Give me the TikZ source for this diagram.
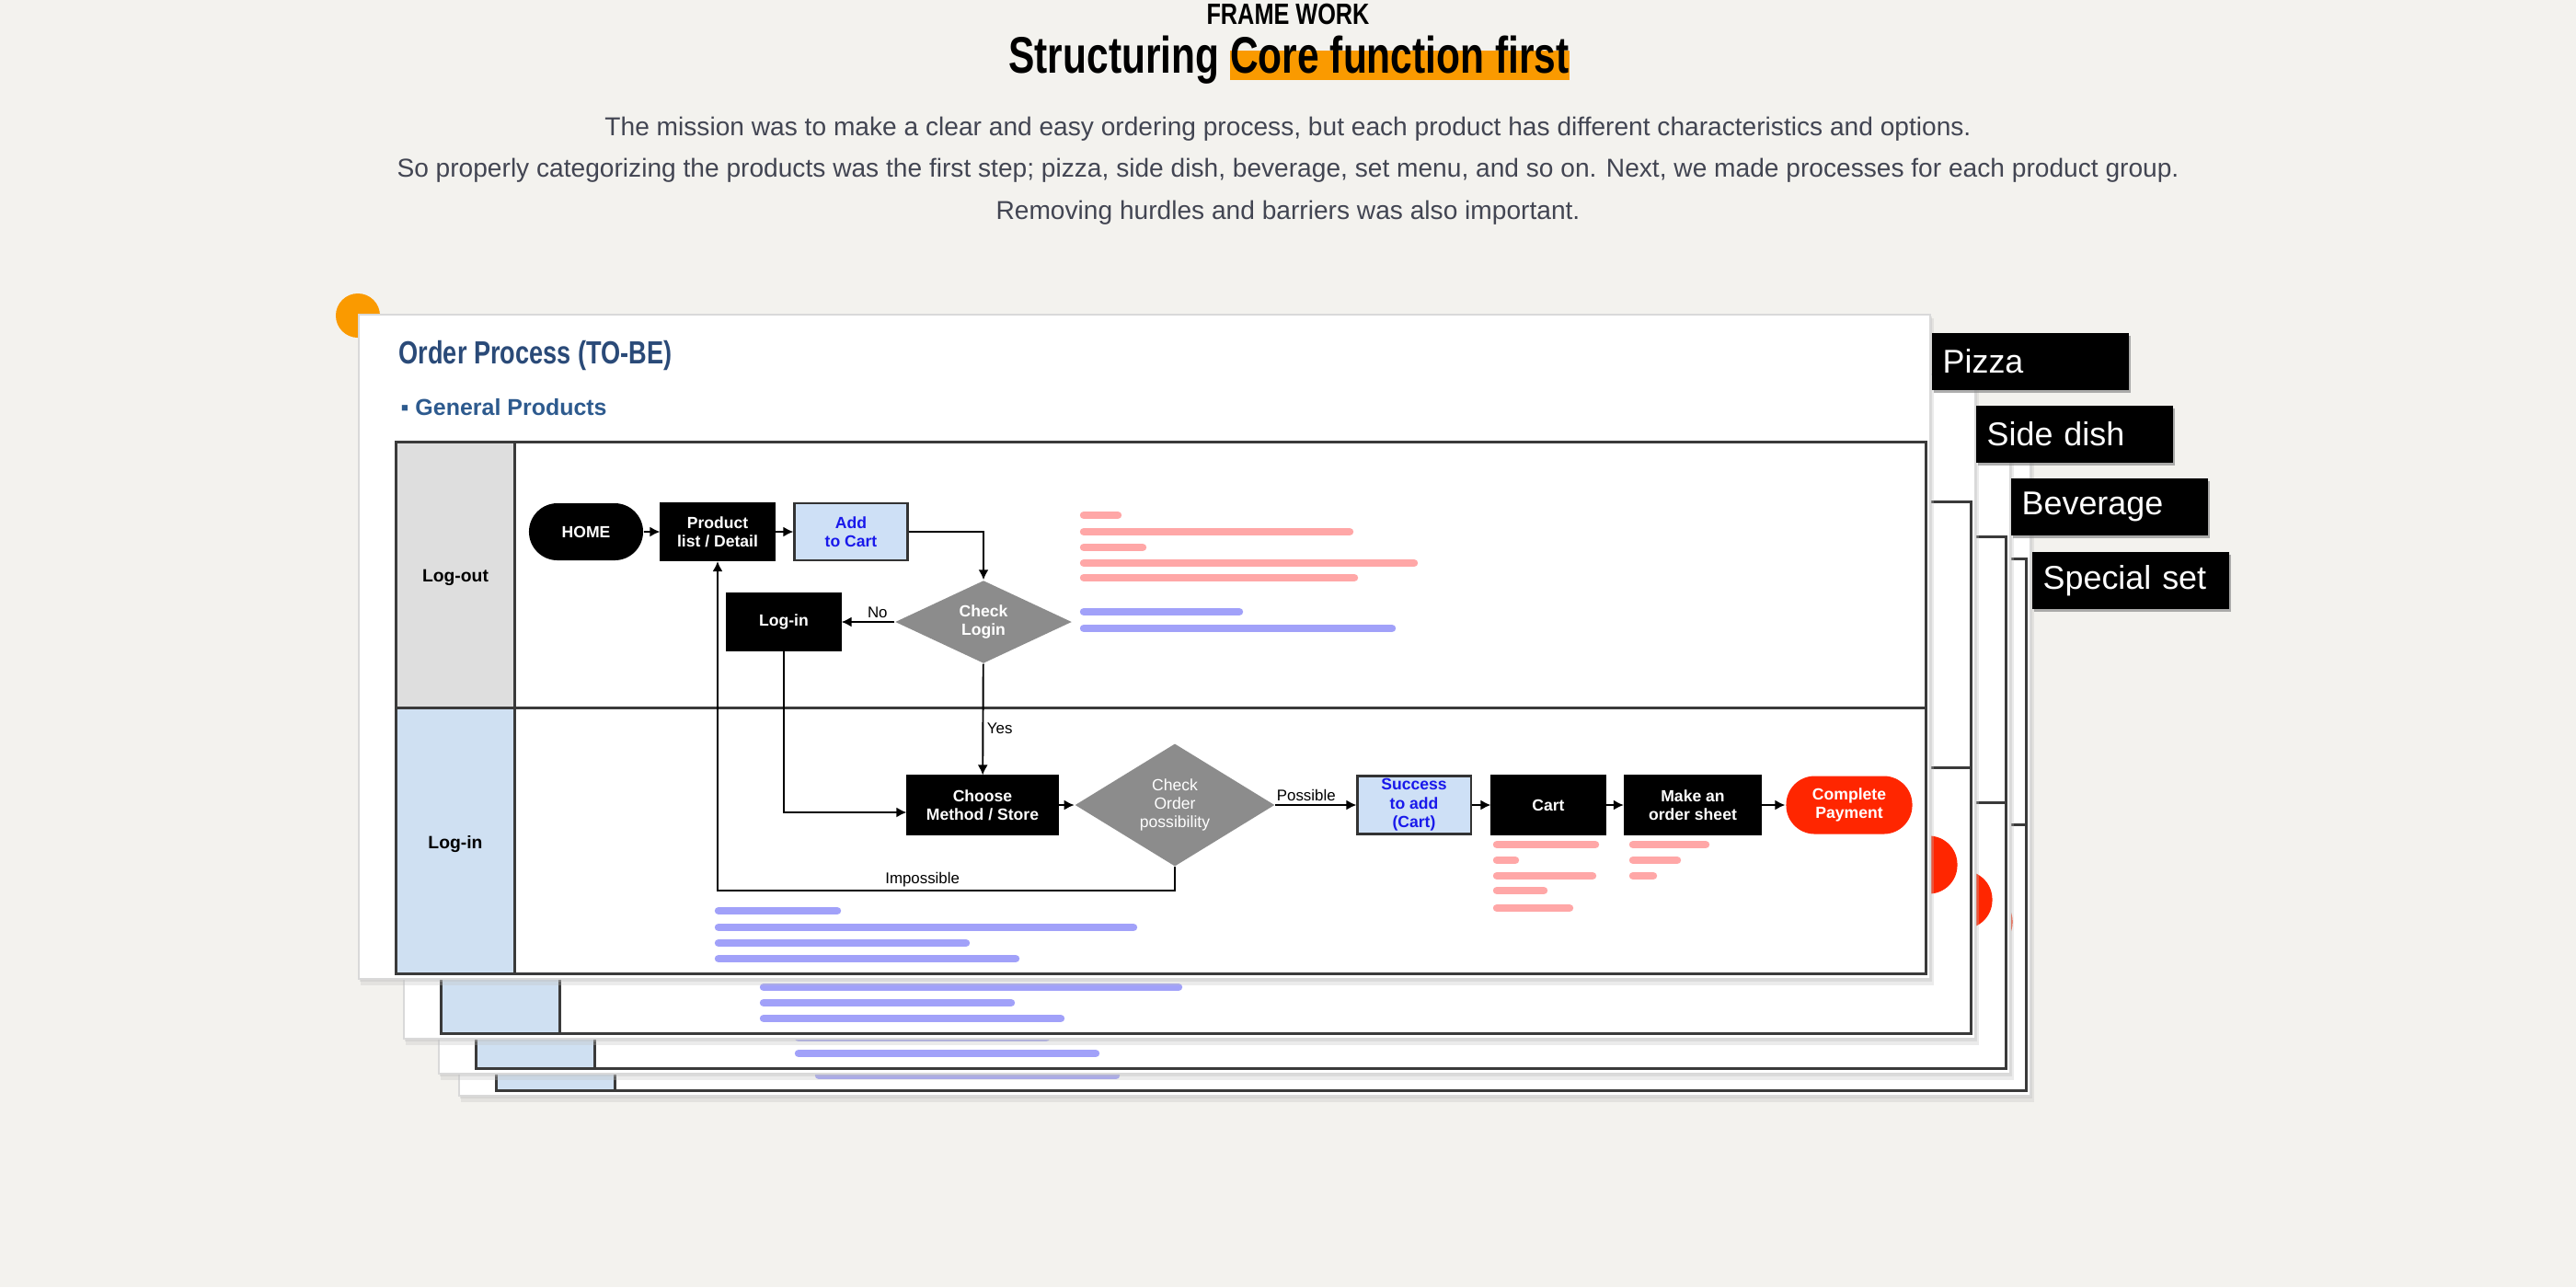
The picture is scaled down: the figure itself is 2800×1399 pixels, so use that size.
\documentclass[tikz,border=0pt]{standalone}
\usepackage{fontspec}
\setmainfont{Liberation Sans}
\usetikzlibrary{positioning,calc,shapes.geometric,arrows.meta,shadows}
\definecolor{FWPage}{RGB}{243,242,238}
\definecolor{FWOrange}{RGB}{250,154,0}
\definecolor{FWInk}{RGB}{66,69,82}
\definecolor{OPNavy}{RGB}{42,74,120}
\definecolor{OPBlue}{RGB}{45,90,142}
\definecolor{OPLine}{RGB}{58,58,58}
\definecolor{OPLaneGray}{RGB}{222,222,222}
\definecolor{OPLaneBlue}{RGB}{207,224,242}
\definecolor{OPBoxBlue}{RGB}{206,224,246}
\definecolor{OPTextBlue}{RGB}{25,25,235}
\definecolor{OPDiamond}{RGB}{140,140,140}
\definecolor{OPRed}{RGB}{255,38,0}
\definecolor{OPBlurRed}{RGB}{255,95,95}
\definecolor{OPBlurBlue}{RGB}{85,85,245}

\newsavebox\hlbox
\newcommand{\hilite}[1]{\sbox\hlbox{#1}\rlap{\color{FWOrange}\rule[-0.08cm]{\wd\hlbox}{0.32cm}}\usebox\hlbox}
\newcommand{\boxfont}{\fontsize{5}{5.8}\selectfont\bfseries}

\tikzset{
  % one process sheet: paper, swimlanes and blurred notes
  cardsheet/.pic={
    \fill[black!25,opacity=.3] (392,346) rectangle (2102,1071);
    \fill[black!25,opacity=.35] (391,344) rectangle (2100,1067);
    \filldraw[draw=black!15,fill=white] (390,342) rectangle (2098,1064);
    \fill[OPLaneGray] (430,480) rectangle (559,769);
    \fill[OPLaneBlue] (430,769) rectangle (559,1058);
    \draw[lane] (430,480) rectangle (2093,1058);
    \draw[lane] (559,480) -- (559,1058);
    \draw[lane] (430,769) -- (2093,769);
    \foreach \y/\xa/\xb in {560/1178/1215,578/1178/1467,595/1178/1242,612/1178/1537,628/1178/1472,
                            918/1627/1734,935/1627/1647,952/1627/1731,968/1627/1678,987/1627/1706,
                            918/1775/1854,935/1775/1823,952/1775/1797}
      \draw[redblur] (\xa,\y) -- (\xb,\y);
    \foreach \y/\xa/\xb in {665/1178/1347,683/1178/1513,
                            990/781/910,1008/781/1232,1025/781/1050,1042/781/1104}
      \draw[blueblur] (\xa,\y) -- (\xb,\y);
  },
  % a sheet behind the front one, only its end oval shows
  backcard/.pic={
    \pic {cardsheet};
    \node[terminal,fill=OPRed,minimum width=1.37cm,minimum height=0.63cm] (oval) at (2010,875) {};
  }
}

\begin{document}
\begin{tikzpicture}[x=0.01cm,y=-0.01cm,
  heading/.style={anchor=base west,inner sep=0,text=OPNavy,font=\fontsize{9.9}{11}\selectfont\bfseries},
  subhead/.style={anchor=base west,inner sep=0,text=OPBlue,font=\fontsize{7.1}{8}\selectfont\bfseries},
  lane/.style={draw=OPLine,line width=0.85pt},
  lanelabel/.style={font=\fontsize{5.5}{6}\selectfont\bfseries,inner sep=0},
  pbox/.style={rectangle,minimum width=1.23cm,minimum height=0.62cm,inner sep=0,align=center,font=\boxfont,line width=0.6pt},
  blackbox/.style={pbox,draw=black,fill=black,text=white},
  bluebox/.style={pbox,draw=black!80,fill=OPBoxBlue,text=OPTextBlue},
  terminal/.style={pbox,rounded corners=0.31cm},
  decision/.style={diamond,fill=OPDiamond,text=white,inner sep=0,align=center,font=\boxfont},
  lbl/.style={font=\fontsize{4.8}{5.5}\selectfont,inner sep=1pt},
  arr/.style={-{Latex[length=1.1mm,width=1.1mm]},line width=0.55pt,draw=black},
  redblur/.style={draw=OPBlurRed,line width=2.4pt,line cap=round,opacity=.55},
  blueblur/.style={draw=OPBlurBlue,line width=2.4pt,line cap=round,opacity=.55},
  tab/.style={anchor=north west,fill=black,text=white,font=\fontsize{10.2}{12}\selectfont,text width=1.9cm,inner xsep=0.12cm,inner ysep=0,minimum height=0.62cm,align=left,drop shadow={shadow xshift=0.6pt,shadow yshift=-0.8pt,fill=black!45,opacity=.7}},
  para/.style={anchor=base,inner sep=0,text=FWInk,font=\fontsize{8}{9.6}\selectfont}]
  \useasboundingbox (0,0) rectangle (2800,1399);
  \fill[FWPage] (0,0) rectangle (2800,1399);

  % header
  \node[anchor=base,inner sep=0,font=\fontsize{9.1}{10}\selectfont\bfseries] (frame) at (1400,26) {\scalebox{0.79}[1]{FRAME WORK}};
  \node[anchor=base,inner sep=0,font=\fontsize{15.9}{18}\selectfont\bfseries] (title) at (1401,79) {\scalebox{0.76}[1]{Structuring \hilite{Core function first}}};
  \node[para] (para1) at (1400,147) {The mission was to make a clear and easy ordering process, but each product has different characteristics and options.};
  \node[para] (para2) at (1400,192) {So properly categorizing the products was the first step; pizza, side dish, beverage, set menu, and so on. Next, we made processes for each product group.};
  \node[para] (para3) at (1400,238) {Removing hurdles and barriers was also important.};

  % stacked process sheets
  \pic (card4) at (109,127) {backcard};
  \pic (card3) at (87,103) {backcard};
  \pic (card2) at (49,65) {backcard};
  \fill[FWOrange] (389,343) circle[radius=0.24cm];
  \pic (card1) at (0,0) {cardsheet};

  % front sheet
  \node[heading] (head) at (433,395) {\scalebox{0.78}[1]{Order Process (TO-BE)}};
  \node[subhead] (sub) at (435,451) {▪ General Products};
  \node[lanelabel] (laneout) at (495,628) {Log-out};
  \node[lanelabel] (lanein) at (495,918) {Log-in};
  \node[terminal,fill=black,text=white,minimum width=1.24cm] (home) at (637,578) {HOME};
  \node[blackbox] (prod) at (780,578) {Product\\list / Detail};
  \node[bluebox] (add) at (925,578) {Add\\to Cart};
  \node[decision,minimum width=1.92cm,minimum height=0.9cm] (chklogin) at (1069,676) {Check\\Login};
  \node[blackbox] (login) at (852,676) {Log-in};
  \node[blackbox,minimum width=1.63cm,minimum height=0.63cm] (choose) at (1068,875) {Choose\\Method / Store};
  \node[decision,font=\fontsize{5}{5.8}\selectfont,minimum width=2.17cm,minimum height=1cm] (chkorder) at (1277,875) {Check\\Order\\possibility};
  \node[bluebox,minimum height=0.63cm] (success) at (1537,875) {Success\\to add\\(Cart)};
  \node[blackbox,minimum height=0.63cm] (cart) at (1683,875) {Cart};
  \node[blackbox,minimum width=1.48cm,minimum height=0.63cm] (sheet) at (1840,875) {Make an\\order sheet};
  \node[terminal,fill=OPRed,text=white,minimum width=1.37cm,minimum height=0.63cm] (pay) at (2010,875) {Complete\\Payment};
  \draw[arr] (home) -- (prod);
  \draw[arr] (prod) -- (add);
  \draw[arr] (add) -| (chklogin);
  \draw[arr] (chklogin) -- node[lbl,above,pos=.32] {No} (login);
  \draw[arr] (chklogin) -- node[lbl,right,pos=.58] {Yes} (choose);
  \draw[arr] (login) |- ($(choose.west)+(0,8)$);
  \draw[arr] (choose) -- (chkorder);
  \draw[arr] (chkorder) -- node[lbl,above,pos=.38] {Possible} (success);
  \draw[arr] (success) -- (cart);
  \draw[arr] (cart) -- (sheet);
  \draw[arr] (sheet) -- (pay);
  \draw[arr] (chkorder) -- (chkorder |- 0,968) -| node[lbl,above,pos=.276] {Impossible} (prod);

  % product tabs
  \node[tab] (pizza) at (2099,361) {Pizza};
  \node[tab] (side) at (2147,440) {Side dish};
  \node[tab] (drink) at (2185,519) {Beverage};
  \node[tab] (special) at (2208,599) {Special set};
\end{tikzpicture}
\end{document}
